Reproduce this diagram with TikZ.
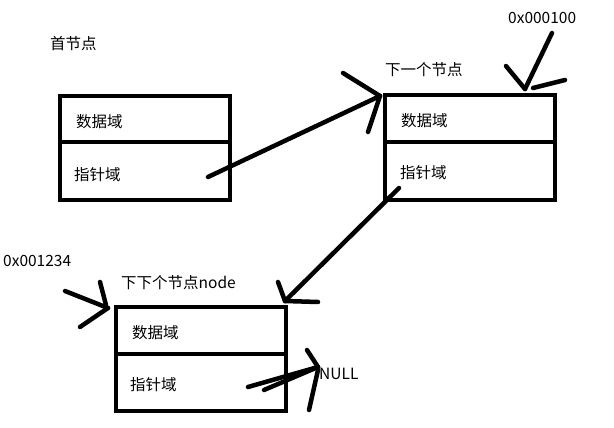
\documentclass[tikz,border=0pt]{standalone}
\usepackage{fontspec}
\setmainfont{Noto Sans CJK SC}
\begin{document}
\begin{tikzpicture}[x=1pt,y=-1pt,
  cell/.style={draw=black,line width=4pt,minimum width=170pt,minimum height=104pt,inner sep=0pt},
  lbl/.style={font=\fontsize{15.5}{18}\selectfont,anchor=west,inner sep=0pt},
  stroke/.style={line width=4.5pt,line cap=round}]
\useasboundingbox[fill=white] (0,0) rectangle (614,428);
% boxes
\node[cell] (b1) at (145,148) {};
\node[cell] (b2) at (470,147.5) {};
\node[cell] (b3) at (201,359) {};
\draw[line width=4pt] (b1.west |- 0,142.5) -- (b1.east |- 0,142.5);
\draw[line width=4pt] (b2.west |- 0,142) -- (b2.east |- 0,142);
\draw[line width=4pt] (b3.west |- 0,353.5) -- (b3.east |- 0,353.5);
% texts
\node[lbl] (t1) at (50,44) {首节点};
\node[lbl] (d1) at (76,122) {数据域};
\node[lbl] (p1) at (74,175) {指针域};
\node[lbl] (t2) at (385,70) {下一个节点};
\node[lbl] (a2) at (508,18) {0x000100};
\node[lbl] (d2) at (401,121) {数据域};
\node[lbl] (p2) at (400,173) {指针域};
\node[lbl] (t3) at (121,283) {下下个节点node};
\node[lbl] (a3) at (3,261) {0x001234};
\node[lbl] (d3) at (132,333) {数据域};
\node[lbl] (p3) at (130,385) {指针域};
\node[lbl] (nl) at (319,374) {NULL};
% arrow box1 -> box2
\coordinate (s1) at (208,177);
\coordinate (e1) at (380,96);
\draw[stroke] (s1) -- (e1);
\draw[stroke] (343,73) -- (e1);
\draw[stroke] (368,132) -- (e1);
% arrow 0x000100
\coordinate (s2) at (552,33);
\coordinate (e2) at (525,89);
\draw[stroke] (s2) -- (e2);
\draw[stroke] (506,66) -- (e2);
\draw[stroke] (533,88) -- (565,80);
% arrow box2 -> box3
\coordinate (s3) at (399,188);
\coordinate (e3) at (285,301);
\draw[stroke] (s3) -- (e3);
\draw[stroke] (278,282) -- (e3);
\draw[stroke] (e3) -- (318,302);
% arrow 0x001234
\coordinate (s4) at (65,291);
\coordinate (e4) at (108,308);
\draw[stroke] (s4) -- (e4);
\draw[stroke] (100,282) -- (106,305);
\draw[stroke] (80,327) -- (e4);
% arrow -> NULL
\coordinate (s5) at (248,387);
\coordinate (e5) at (318,367);
\draw[stroke] (s5) -- (e5);
\draw[stroke] (264,390) -- (e5);
\draw[stroke] (307,350) -- (e5);
\draw[stroke] (309,410) -- (318,370);
\end{tikzpicture}
\end{document}
